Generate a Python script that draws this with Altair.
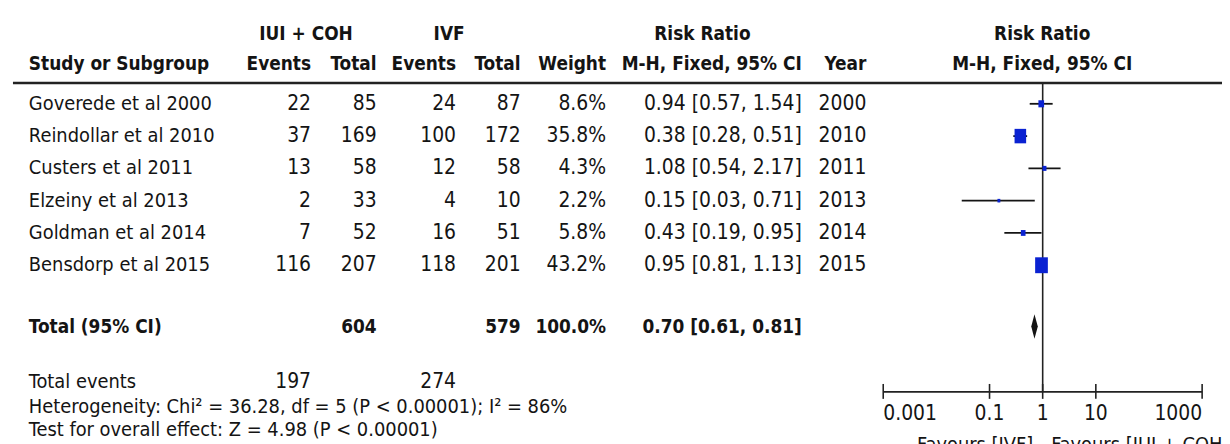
import altair as alt
import pandas as pd

# ---------------- data ----------------
studies = ["Goverede et al 2000", "Reindollar et al 2010", "Custers et al 2011",
           "Elzeiny et al 2013", "Goldman et al 2014", "Bensdorp et al 2015"]
iui_events = [22, 37, 13, 2, 7, 116]
iui_total = [85, 169, 58, 33, 52, 207]
ivf_events = [24, 100, 12, 4, 16, 118]
ivf_total = [87, 172, 58, 10, 51, 201]
weights = [8.6, 35.8, 4.3, 2.2, 5.8, 43.2]
rr = [0.94, 0.38, 1.08, 0.15, 0.43, 0.95]
ci_lo = [0.57, 0.28, 0.54, 0.03, 0.19, 0.81]
ci_hi = [1.54, 0.51, 2.17, 0.71, 0.95, 1.13]
years = [2000, 2010, 2011, 2013, 2014, 2015]

total_label = ["Total (95% CI)"]
total_n = [604, 579]
total_weight = [100.0]
total_rr = [0.70]
total_lo = [0.61]
total_hi = [0.81]
total_events = [197, 274]
footer_lines = ["Heterogeneity: Chi² = 36.28, df = 5 (P < 0.00001); I² = 86%",
                "Test for overall effect: Z = 4.98 (P < 0.00001)"]
axis_ticks = [0.001, 0.1, 1, 10, 1000]
tick_labels = ["0.001", "0.1", "1", "10", "1000"]
favours = ["Favours [IVF]", "Favours [IUI + COH]"]
group_headers = ["IUI + COH", "IVF", "Risk Ratio", "Risk Ratio"]
col_headers = ["Study or Subgroup", "Events", "Total", "Events", "Total", "Weight",
               "M-H, Fixed, 95% CI", "Year", "M-H, Fixed, 95% CI"]

# ---------------- style ----------------
FONT = "DejaVu Sans Condensed, Liberation Sans, sans-serif"
FS = 20      # names / footer text
FN = 21      # numbers
FB = 19      # bold headers
INK = "#141414"
BLUE = "#0a22d2"
W, H = 1222, 436

xs = alt.Scale(type="log", domain=[0.001, 1000], range=[881, 1202])
ys = alt.Scale(domain=[0, 5], range=[95, 257.5])
TOTAL_ROW = 6.9

df = pd.DataFrame({
    "row": list(range(len(studies))),
    "study": studies,
    "e1": [str(v) for v in iui_events],
    "n1": [str(v) for v in iui_total],
    "e2": [str(v) for v in ivf_events],
    "n2": [str(v) for v in ivf_total],
    "w": weights,
    "wt": [f"{w:.1f}%" for w in weights],
    "ci": [f"{r:.2f} [{l:.2f}, {h:.2f}]" for r, l, h in zip(rr, ci_lo, ci_hi)],
    "year": [str(y) for y in years],
    "rr": rr, "lo": ci_lo, "hi": ci_hi,
})

tot = pd.DataFrame({
    "row": [TOTAL_ROW],
    "study": total_label,
    "n1": [str(total_n[0])],
    "n2": [str(total_n[1])],
    "wt": [f"{total_weight[0]:.1f}%"],
    "ci": [f"{total_rr[0]:.2f} [{total_lo[0]:.2f}, {total_hi[0]:.2f}]"],
})


def col(data, field, x, align, size, bold=False):
    return alt.Chart(data).mark_text(
        align=align, baseline="middle", font=FONT, fontSize=size,
        fontWeight="bold" if bold else "normal", color=INK
    ).encode(x=alt.value(x), y=alt.Y("row:Q", scale=ys, axis=None),
             text=alt.Text(f"{field}:N"))


def label(text, x, y, align, size, bold=False):
    return alt.Chart(pd.DataFrame({"t": [text]})).mark_text(
        align=align, baseline="middle", font=FONT, fontSize=size,
        fontWeight="bold" if bold else "normal", color=INK
    ).encode(x=alt.value(x), y=alt.value(y), text="t:N")


layers = []

# headers
GY, CY = 25, 55
layers += [
    label(group_headers[0], 300, GY, "center", FB, True),
    label(group_headers[1], 444, GY, "center", FB, True),
    label(group_headers[2], 699, GY, "center", FB, True),
    label(group_headers[3], 1041, GY, "center", FB, True),
    label(col_headers[0], 21, CY, "left", FB, True),
    label(col_headers[1], 305, CY, "right", FB, True),
    label(col_headers[2], 371, CY, "right", FB, True),
    label(col_headers[3], 451, CY, "right", FB, True),
    label(col_headers[4], 516, CY, "right", FB, True),
    label(col_headers[5], 602, CY, "right", FB, True),
    label(col_headers[6], 799, CY, "right", FB, True),
    label(col_headers[7], 864, CY, "right", FB, True),
    label(col_headers[8], 1041, CY, "center", FB, True),
]

one = pd.DataFrame({"a": [0]})
layers.append(alt.Chart(one).mark_rule(strokeWidth=2.5, color="#222").encode(
    x=alt.value(5), x2=alt.value(W), y=alt.value(74)))

# study rows
layers += [
    col(df, "study", 21, "left", FS),
    col(df, "e1", 305, "right", FN),
    col(df, "n1", 371, "right", FN),
    col(df, "e2", 451, "right", FN),
    col(df, "n2", 516, "right", FN),
    col(df, "wt", 602, "right", FN),
    col(df, "ci", 799, "right", FN),
    col(df, "year", 864, "right", FN),
]

# total row
layers += [
    col(tot, "study", 21, "left", FB, True),
    col(tot, "n1", 371, "right", FB, True),
    col(tot, "n2", 516, "right", FB, True),
    col(tot, "wt", 602, "right", FB, True),
    col(tot, "ci", 799, "right", FB, True),
]

# footer
layers += [
    label("Total events", 21, 375, "left", FS),
    label(str(total_events[0]), 305, 375, "right", FN),
    label(str(total_events[1]), 451, 375, "right", FN),
    label(footer_lines[0], 21, 400, "left", FS),
    label(footer_lines[1], 21, 423, "left", FS),
]

# forest plot: null line
layers.append(alt.Chart(pd.DataFrame({"v": [1]})).mark_rule(strokeWidth=1.6, color="#222").encode(
    x=alt.X("v:Q", scale=xs, axis=None), y=alt.value(74), y2=alt.value(385)))

# axis
ax = pd.DataFrame({"a": [axis_ticks[0]], "b": [axis_ticks[-1]]})
layers.append(alt.Chart(ax).mark_rule(strokeWidth=1.6, color="#222").encode(
    x=alt.X("a:Q", scale=xs, axis=None), x2="b:Q", y=alt.value(385)))
tk = pd.DataFrame({"t": axis_ticks, "lab": tick_labels})
layers.append(alt.Chart(tk).mark_rule(strokeWidth=1.6, color="#222").encode(
    x=alt.X("t:Q", scale=xs, axis=None), y=alt.value(377), y2=alt.value(392)))
for sub, al in [(tk.iloc[[0]], "left"), (tk.iloc[1:-1], "center"), (tk.iloc[[-1]], "right")]:
    layers.append(alt.Chart(sub).mark_text(
        align=al, baseline="middle", font=FONT, fontSize=FN, color=INK
    ).encode(x=alt.X("t:Q", scale=xs, axis=None), y=alt.value(407), text="lab:N"))

layers += [
    label(favours[0], 1032, 438, "right", FS),
    label(favours[1], 1050, 438, "left", FS),
]

# CI lines
layers.append(alt.Chart(df).mark_rule(strokeWidth=1.8, color=INK).encode(
    x=alt.X("lo:Q", scale=xs, axis=None), x2="hi:Q",
    y=alt.Y("row:Q", scale=ys, axis=None)))

# weight squares (height = sqrt(size))
layers.append(alt.Chart(df).mark_point(
    shape="M-0.8,-1L0.8,-1L0.8,1L-0.8,1Z", filled=True, opacity=1,
    color=BLUE, strokeWidth=0
).encode(
    x=alt.X("rr:Q", scale=xs, axis=None),
    y=alt.Y("row:Q", scale=ys, axis=None),
    size=alt.Size("w:Q", scale=alt.Scale(domain=[0, 43.2], range=[0, 256]), legend=None)))

# pooled diamond
HALF = 0.38
dia = pd.DataFrame({
    "x": [total_lo[0], total_rr[0], total_hi[0]],
    "y": [TOTAL_ROW, TOTAL_ROW - HALF, TOTAL_ROW],
    "y2": [TOTAL_ROW, TOTAL_ROW + HALF, TOTAL_ROW],
})
layers.append(alt.Chart(dia).mark_area(color=INK, opacity=1).encode(
    x=alt.X("x:Q", scale=xs, axis=None),
    y=alt.Y("y:Q", scale=ys, axis=None, stack=False),
    y2="y2:Q"))

chart = alt.layer(*layers).properties(
    width=W, height=H, padding=0, autosize=alt.AutoSizeParams(type="none")
).configure_view(stroke=None)

chart.save("out.html", embed_options={"renderer": "svg", "actions": False})
